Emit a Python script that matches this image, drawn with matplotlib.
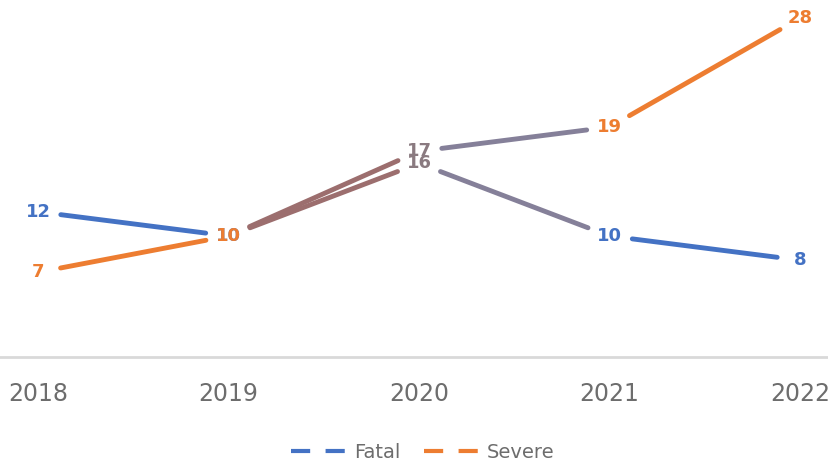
import numpy as np
import matplotlib.pyplot as plt
from matplotlib.lines import Line2D

# data
years = ['2018', '2019', '2020', '2021', '2022']
fatal = [12, 10, 16, 10, 8]
severe = [7, 10, 17, 19, 28]

blue = '#4472C4'
orange = '#ED7D31'
# segment colours (the middle segments come out blended in the original)
seg_colors = [None, '#9C6E6E', '#858099', None]
label_mid = '#8A7A80'

fig = plt.figure(figsize=(8.29, 4.65), dpi=100)
ax = fig.add_axes([0, 108 / 465, 1, 357 / 465])

x = np.arange(len(years))

ax.set_xlim(-38 / 190.5, (829 - 38) / 190.5)
ax.set_ylim(0, 29.5)

# lines stop short of the data labels, so shrink each segment in pixels
gap = 23
to_px = ax.transData
to_data = ax.transData.inverted()
for s, base in [(fatal, blue), (severe, orange)]:
    for i in range(len(x) - 1):
        p0 = to_px.transform((x[i], s[i]))
        p1 = to_px.transform((x[i + 1], s[i + 1]))
        d = (p1 - p0) / np.hypot(*(p1 - p0))
        q0 = to_data.transform(p0 + d * gap)
        q1 = to_data.transform(p1 - d * gap)
        c = seg_colors[i] or base
        ax.plot([q0[0], q1[0]], [q0[1], q1[1]], color=c, lw=3.5,
                solid_capstyle='round', zorder=2)

# data labels
for i in range(len(x)):
    for s, base in [(fatal, blue), (severe, orange)]:
        col = label_mid if i == 2 else base
        ax.text(x[i], s[i], str(s[i]), ha='center', va='center',
                fontsize=13, fontweight='bold', color=col, zorder=3)

for sp in ['top', 'right', 'left']:
    ax.spines[sp].set_visible(False)
ax.spines['bottom'].set_color('#d9d9d9')
ax.spines['bottom'].set_linewidth(2)
ax.set_yticks([])
ax.set_xticks(x)
ax.set_xticklabels(years, fontsize=17, color='#6d6d6d')
ax.tick_params(axis='x', length=0, pad=18)

handles = [Line2D([], [], color=blue, lw=3, ls=(0, (4.6, 3.7))),
           Line2D([], [], color=orange, lw=3, ls=(0, (4.6, 3.7)))]
fig.legend(handles, ['Fatal', 'Severe'], loc='center', bbox_to_anchor=(0.51, 0.027),
           ncol=2, frameon=False, fontsize=14, labelcolor='#6d6d6d',
           handlelength=3.1, handletextpad=0.15, columnspacing=1.2)

fig.savefig('out.png', dpi=100)
